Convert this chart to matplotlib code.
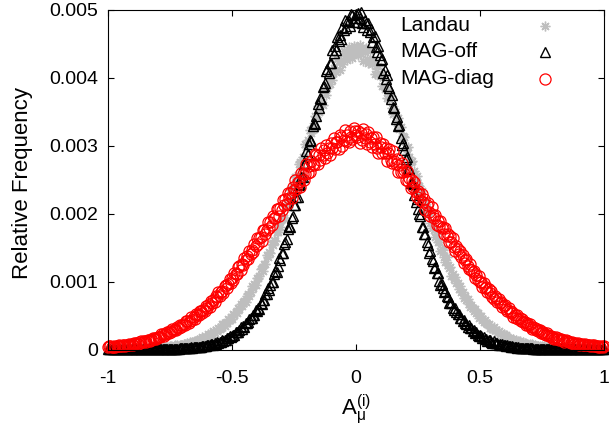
import numpy as np
import matplotlib
matplotlib.use("Agg")
import matplotlib.pyplot as plt
from matplotlib.ticker import FixedLocator, FuncFormatter

plt.rcParams['font.family'] = ['Liberation Sans', 'DejaVu Sans']
plt.rcParams['mathtext.fontset'] = 'custom'
plt.rcParams['mathtext.rm'] = 'Liberation Sans'
plt.rcParams['mathtext.it'] = 'Liberation Sans'

# histogram bin centres of A_mu^(i), step 0.005 from -1 to 1
a_mu = np.linspace(-1.0, 1.0, 401)

# relative frequencies, stored in units of 1e-6 (left half, centre bin, right half)
landau_u = [
    2, 2, 2, 3, 3, 3, 3, 4, 4, 4,
    4, 5, 5, 5, 5, 6, 6, 7, 7, 8,
    8, 9, 9, 9, 11, 11, 12, 12, 14, 13,
    15, 17, 16, 18, 16, 24, 20, 24, 19, 27,
    23, 28, 24, 32, 30, 41, 29, 38, 37, 30,
    46, 47, 38, 46, 60, 48, 61, 52, 70, 66,
    65, 86, 85, 73, 91, 85, 111, 101, 115, 103,
    131, 122, 137, 125, 160, 152, 184, 162, 186, 191,
    180, 227, 229, 211, 235, 275, 250, 281, 268, 316,
    307, 314, 368, 373, 347, 394, 390, 454, 433, 473,
    452, 525, 506, 547, 534, 609, 597, 673, 635, 693,
    710, 696, 794, 812, 785, 848, 940, 898, 970, 953,
    1050, 1053, 1075, 1178, 1200, 1156, 1256, 1257, 1383, 1360,
    1438, 1417, 1552, 1534, 1611, 1590, 1735, 1729, 1863, 1808,
    1914, 1953, 1935, 2107, 2138, 2099, 2199, 2348, 2280, 2399,
    2374, 2533, 2532, 2566, 2727, 2758, 2689, 2837, 2831, 3015,
    2973, 3085, 3043, 3233, 3189, 3290, 3245, 3440, 3415, 3588,
    3490, 3618, 3645, 3590, 3805, 3820, 3745, 3848, 4025, 3903,
    4033, 3959, 4136, 4089, 4086, 4268, 4250, 4113, 4262, 4204,
    4396, 4283, 4372, 4255, 4448, 4327, 4396, 4283, 4456, 4363,
    4448, 4411, 4324, 4475, 4348, 4435, 4244, 4375, 4432, 4271,
    4216, 4396, 4250, 4197, 4262, 4052, 4163, 4045, 4169, 4025,
    4044, 3881, 4003, 3837, 3855, 3700, 3795, 3680, 3735, 3548,
    3460, 3538, 3455, 3330, 3405, 3250, 3270, 3080, 3133, 3130,
    2964, 2880, 2975, 2828, 2752, 2767, 2583, 2622, 2500, 2557,
    2422, 2407, 2264, 2332, 2191, 2187, 2054, 2100, 1998, 2016,
    1865, 1787, 1828, 1757, 1658, 1702, 1587, 1588, 1450, 1477,
    1468, 1354, 1293, 1353, 1250, 1198, 1206, 1088, 1110, 1033,
    1065, 983, 975, 888, 930, 843, 840, 761, 790, 734,
    748, 664, 622, 652, 614, 563, 590, 533, 538, 465,
    487, 490, 429, 402, 438, 391, 368, 376, 314, 335,
    295, 325, 283, 284, 245, 270, 233, 237, 200, 224,
    198, 209, 172, 156, 174, 160, 138, 157, 131, 136,
    105, 118, 122, 99, 89, 109, 89, 82, 86, 64,
    74, 61, 74, 59, 62, 46, 58, 45, 48, 36,
    45, 38, 45, 31, 26, 37, 32, 27, 32, 25,
    28, 19, 24, 26, 19, 17, 24, 18, 17, 17,
    14, 15, 12, 14, 11, 12, 10, 9, 10, 8,
    8, 8, 7, 7, 6, 6, 5, 5, 5, 5,
    4, 4, 4, 4, 3, 3, 3, 3, 2, 2, 2,
]

mag_off_u = [
    1, 1, 1, 1, 1, 1, 1, 1, 1, 1,
    1, 1, 1, 1, 1, 1, 1, 1, 2, 2,
    2, 2, 2, 2, 2, 2, 2, 2, 2, 3,
    3, 3, 3, 3, 3, 3, 4, 4, 4, 4,
    5, 5, 5, 5, 6, 6, 7, 7, 8, 8, 9, 9, 10, 10, 11, 12, 13, 14, 15, 16, 17, 18, 19,
    21, 18, 25, 23, 31, 26, 31, 32, 30, 41, 43, 36, 43, 56, 47, 56, 51, 65,
    63, 65, 80, 82, 72, 91, 87, 110, 101, 114,
    108, 134, 128, 141, 139, 170, 164, 198, 178, 204,
    216, 210, 255, 258, 255, 286, 333, 307, 344, 331,
    387, 387, 400, 454, 470, 456, 510, 509, 584, 570,
    617, 602, 686, 676, 730, 729, 814, 817, 907, 873,
    955, 990, 991, 1112, 1149, 1144, 1225, 1345, 1318, 1417,
    1423, 1553, 1580, 1628, 1771, 1818, 1803, 1937, 1962, 2122,
    2127, 2240, 2249, 2426, 2430, 2538, 2539, 2730, 2747, 2922,
    2878, 3016, 3076, 3070, 3282, 3332, 3312, 3434, 3606, 3555,
    3698, 3677, 3865, 3871, 3915, 4101, 4131, 4069, 4220, 4216,
    4398, 4353, 4458, 4408, 4601, 4540, 4631, 4570, 4746, 4700,
    4851, 4730, 4831, 4830, 4751, 4940, 4921, 4810, 4877,
    4930, 4817, 4950, 4871, 4960, 4801, 4740, 4851, 4800, 4701,
    4800, 4666, 4710, 4521, 4600, 4611, 4444, 4368, 4470, 4326,
    4252, 4265, 4069, 4113, 3975, 4032, 3871, 3847, 3677, 3743,
    3573, 3550, 3386, 3424, 3292, 3298, 3110, 3004, 3032, 2934,
    2802, 2827, 2666, 2651, 2450, 2469, 2432, 2275, 2175, 2211,
    2070, 1988, 1969, 1803, 1807, 1693, 1700, 1580, 1542, 1423,
    1444, 1330, 1307, 1192, 1207, 1126, 1120, 1014, 950, 964,
    904, 839, 862, 786, 778, 691, 697, 689, 616, 582,
    615, 556, 523, 527, 456, 464, 416, 435, 387, 382,
    331, 358, 312, 314, 274, 283, 248, 259, 220, 198,
    208, 192, 168, 184, 154, 158, 127, 136, 135, 113,
    101, 118, 100, 92, 98, 72, 80, 69, 75, 63,
    63, 51, 60, 49, 50, 39, 47, 39, 41, 32,
    28, 32, 29, 24, 28, 21, 24, 17, 20, 18,
    17, 16, 15, 14, 13, 12, 11, 10, 10, 9,
    9, 8, 8, 7, 7, 6, 6, 5, 5, 5,
    5, 4, 4, 4, 4, 3, 3, 3, 3, 3,
    3, 3, 2, 2, 2, 2, 2, 2, 2, 2,
    2, 2, 2, 1, 1, 1, 1, 1, 1, 1,
    1, 1, 1, 1, 1, 1, 1, 1, 1, 1, 1,
]

mag_diag_u = [
    31, 48, 47, 38, 44, 57, 44, 54, 46, 59,
    54, 54, 68, 68, 57, 69, 65, 80, 72, 81,
    73, 93, 83, 93, 84, 107, 100, 120, 104, 119,
    120, 108, 145, 145, 130, 146, 174, 153, 173, 161,
    191, 186, 189, 226, 224, 198, 230, 222, 263, 245,
    267, 251, 297, 280, 302, 288, 335, 321, 367, 332,
    366, 372, 354, 417, 420, 396, 426, 474, 441, 479,
    453, 517, 504, 507, 570, 569, 530, 582, 569, 636,
    609, 651, 630, 707, 685, 725, 697, 784, 766, 843,
    791, 851, 862, 835, 938, 944, 908, 957, 1036, 985,
    1048, 1015, 1120, 1105, 1114, 1219, 1222, 1165, 1252, 1237,
    1348, 1309, 1372, 1333, 1450, 1411, 1468, 1435, 1546, 1520,
    1638, 1551, 1637, 1648, 1599, 1753, 1756, 1692, 1763, 1879,
    1792, 1880, 1831, 1956, 1930, 1935, 2060, 2064, 1965, 2082,
    2046, 2199, 2127, 2208, 2136, 2298, 2226, 2298, 2235, 2388,
    2343, 2490, 2357, 2466, 2470, 2390, 2594, 2587, 2486, 2574,
    2725, 2590, 2698, 2615, 2775, 2724, 2716, 2876, 2857, 2732,
    2862, 2794, 2967, 2853, 2935, 2822, 3009, 2896, 2967, 2864,
    3038, 2959, 3112, 2952, 3057, 3046, 2943, 3150, 3126, 2998,
    3077, 3224, 3060, 3160, 3051, 3206, 3130, 3099, 3252, 3207,
    3150, 3126, 3217, 3041, 3177, 3079, 3236, 3113, 3164, 3028,
    3192, 3054, 3113, 2974, 3123, 3029, 3132, 2956, 2896, 3031,
    2982, 2885, 3019, 2886, 2962, 2772, 2892, 2944, 2789, 2737,
    2915, 2778, 2735, 2796, 2615, 2719, 2611, 2736, 2606, 2636,
    2496, 2627, 2484, 2521, 2378, 2498, 2397, 2462, 2309, 2246,
    2336, 2282, 2192, 2282, 2165, 2210, 2048, 2129, 2156, 2021,
    1967, 2094, 1978, 1937, 1971, 1832, 1897, 1810, 1890, 1788,
    1800, 1692, 1780, 1672, 1693, 1585, 1665, 1587, 1638, 1507,
    1452, 1517, 1472, 1403, 1454, 1367, 1388, 1271, 1316, 1325,
    1226, 1183, 1260, 1175, 1138, 1161, 1046, 1093, 1020, 1079,
    994, 999, 926, 978, 906, 914, 842, 889, 835, 863,
    776, 739, 783, 751, 699, 744, 681, 693, 618, 646,
    650, 590, 563, 613, 560, 537, 553, 481, 511, 466,
    504, 454, 458, 413, 446, 401, 407, 362, 392, 359,
    377, 325, 303, 332, 313, 286, 307, 273, 282, 236,
    255, 261, 224, 209, 242, 210, 197, 205, 170, 183,
    161, 181, 158, 162, 137, 159, 135, 140, 116, 136,
    119, 128, 105, 96, 109, 101, 88, 101, 84, 91,
    71, 80, 83, 70, 66, 79, 68, 64, 69, 54,
    63, 53, 64, 53, 56, 44, 55, 43, 47, 35, 45,
]

landau = np.array(landau_u) * 1e-6
mag_off = np.array(mag_off_u) * 1e-6
mag_diag = np.array(mag_diag_u) * 1e-6

labels = ['Landau', 'MAG-off', 'MAG-diag']
styles = [
    dict(marker=(8, 2, 0), ms=7, mew=1.0, color='#bebebe'),
    dict(marker='^', ms=7.5, mew=1.0, mfc='none', mec='black'),
    dict(marker='o', ms=8, mew=0.9, mfc='none', mec='red'),
]

fig = plt.figure(figsize=(6.09, 4.28), dpi=100)
ax = fig.add_axes([0.1773, 0.1834, 0.8145, 0.7944])

for y, st in zip([landau, mag_off, mag_diag], styles):
    ax.plot(a_mu, y, ls='none', clip_on=False, **st)

ax.set_xlim(-1, 1)
ax.set_ylim(0, 0.005)
ax.xaxis.set_major_locator(FixedLocator([-1, -0.5, 0, 0.5, 1]))
ax.xaxis.set_major_formatter(FuncFormatter(lambda v, p: '%g' % v))
ax.yaxis.set_major_locator(FixedLocator([0, 0.001, 0.002, 0.003, 0.004, 0.005]))
ax.yaxis.set_major_formatter(FuncFormatter(lambda v, p: '0' if v == 0 else '%.3f' % v))

ax.tick_params(direction='in', length=4.3, width=0.8, labelsize=14,
               top=True, right=True)
ax.tick_params(axis='x', pad=14.5)
ax.tick_params(axis='y', pad=7)
for s in ax.spines.values():
    s.set_linewidth(0.8)

ax.set_ylabel('Relative Frequency', fontsize=16)
ax.yaxis.set_label_coords(-0.152, 0.49)
ax.set_xlabel(r'$\mathregular{A_{μ}^{(i)}}$', fontsize=16)
ax.xaxis.set_label_coords(0.5, -0.125)

# gnuplot-style key: label on the left, sample point on the right
key_rows = [0.952, 0.876, 0.797]
for lab, st, yk in zip(labels, styles, key_rows):
    ax.text(0.589, yk, lab, transform=ax.transAxes, fontsize=15,
            ha='left', va='center')
    ax.plot([0.881], [yk], transform=ax.transAxes, ls='none',
            clip_on=False, **st)

fig.savefig('out.png', dpi=100)
